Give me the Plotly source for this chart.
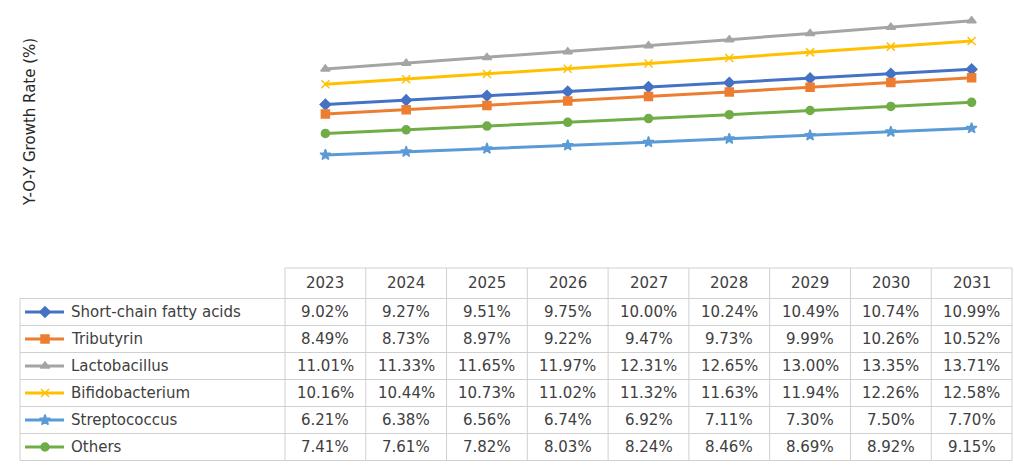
import plotly.graph_objects as go

# ---- data -------------------------------------------------------------
years = ["2023", "2024", "2025", "2026", "2027", "2028", "2029", "2030", "2031"]

short_chain = [9.02, 9.27, 9.51, 9.75, 10.00, 10.24, 10.49, 10.74, 10.99]
tributyrin = [8.49, 8.73, 8.97, 9.22, 9.47, 9.73, 9.99, 10.26, 10.52]
lactobacillus = [11.01, 11.33, 11.65, 11.97, 12.31, 12.65, 13.00, 13.35, 13.71]
bifidobacterium = [10.16, 10.44, 10.73, 11.02, 11.32, 11.63, 11.94, 12.26, 12.58]
streptococcus = [6.21, 6.38, 6.56, 6.74, 6.92, 7.11, 7.30, 7.50, 7.70]
others = [7.41, 7.61, 7.82, 8.03, 8.24, 8.46, 8.69, 8.92, 9.15]

series_names = ["Short-chain fatty acids", "Tributyrin", "Lactobacillus",
                "Bifidobacterium", "Streptococcus", "Others"]
series_values = [short_chain, tributyrin, lactobacillus,
                 bifidobacterium, streptococcus, others]
series_colors = ["#4472C4", "#ED7D31", "#A5A5A5", "#FFC000", "#5B9BD5", "#70AD47"]
series_symbols = ["diamond", "square", "triangle-up", "x-thin", "star", "circle"]

y_title = "Y-O-Y Growth Rate (%)"

# ---- layout geometry (pixels) -----------------------------------------
W, H = 1014, 466
FONT = "DejaVu Sans"
TXT = "#404040"
GRID = "#D0D0D0"
FS = 15

table_left = 20        # left edge of the row-label column
col_left = 285         # first year column
col_right = 1012       # right edge of table
header_top = 268
row_top = 298.5
row_h = 27.0
plot_top = 15.5
plot_bottom = 266.0
n_cols = len(years)
col_w = (col_right - col_left) / n_cols


def px(x):
    return x / W


def py(y):
    return 1 - y / H


fig = go.Figure()

# ---- line series ------------------------------------------------------
for name, vals, color, sym in zip(series_names, series_values,
                                  series_colors, series_symbols):
    fig.add_trace(go.Scatter(
        x=years, y=vals, mode="lines+markers", name=name,
        line=dict(color=color, width=3),
        marker=dict(symbol=sym, size=8, color=color,
                    line=dict(color=color, width=1.5)),
        showlegend=False, xaxis="x", yaxis="y",
    ))

# ---- legend keys inside the data table --------------------------------
for i, (color, sym) in enumerate(zip(series_colors, series_symbols)):
    cy = row_top + row_h * (i + 0.5)
    fig.add_trace(go.Scatter(
        x=[25, 45, 64], y=[cy, cy, cy], mode="lines",
        line=dict(color=color, width=3),
        showlegend=False, hoverinfo="skip", xaxis="x2", yaxis="y2",
    ))
    fig.add_trace(go.Scatter(
        x=[45], y=[cy], mode="markers",
        marker=dict(symbol=sym, size=8, color=color,
                    line=dict(color=color, width=1.5)),
        showlegend=False, hoverinfo="skip", xaxis="x2", yaxis="y2",
    ))

shapes = []
annotations = []

# ---- table grid -------------------------------------------------------
n_rows = len(series_names)
table_bottom = row_top + row_h * n_rows
line_style = dict(color=GRID, width=1)

# header row (year columns only)
shapes.append(dict(type="line", xref="paper", yref="paper",
                   x0=px(col_left), x1=px(col_right),
                   y0=py(header_top), y1=py(header_top), line=line_style))
# row separators
for r in range(n_rows + 1):
    yy = row_top + r * row_h
    shapes.append(dict(type="line", xref="paper", yref="paper",
                       x0=px(table_left), x1=px(col_right),
                       y0=py(yy), y1=py(yy), line=line_style))
# vertical lines
shapes.append(dict(type="line", xref="paper", yref="paper",
                   x0=px(table_left), x1=px(table_left),
                   y0=py(row_top), y1=py(table_bottom), line=line_style))
for c in range(n_cols + 1):
    xx = col_left + c * col_w
    shapes.append(dict(type="line", xref="paper", yref="paper",
                       x0=px(xx), x1=px(xx),
                       y0=py(header_top), y1=py(table_bottom), line=line_style))

# ---- table text -------------------------------------------------------
for c, yr in enumerate(years):
    annotations.append(dict(
        x=px(col_left + (c + 0.5) * col_w), y=py((header_top + row_top) / 2),
        xref="paper", yref="paper", text=yr, showarrow=False,
        xanchor="center", yanchor="middle",
        font=dict(family=FONT, size=FS, color=TXT)))

for r, (name, vals) in enumerate(zip(series_names, series_values)):
    cy = row_top + row_h * (r + 0.5)
    annotations.append(dict(
        x=px(69), y=py(cy), xref="paper", yref="paper", text=name,
        showarrow=False, xanchor="left", yanchor="middle",
        font=dict(family=FONT, size=FS, color=TXT)))
    for c, v in enumerate(vals):
        annotations.append(dict(
            x=px(col_left + (c + 0.5) * col_w), y=py(cy),
            xref="paper", yref="paper", text=f"{v:.2f}%", showarrow=False,
            xanchor="center", yanchor="middle",
            font=dict(family=FONT, size=FS, color=TXT)))

# ---- y axis title -----------------------------------------------------
annotations.append(dict(
    x=px(30), y=py(122), xref="paper", yref="paper", text=y_title,
    showarrow=False, textangle=-90, xanchor="center", yanchor="middle",
    font=dict(family=FONT, size=FS, color="#262626")))

fig.update_layout(
    width=W, height=H,
    margin=dict(l=0, r=0, t=0, b=0),
    paper_bgcolor="white", plot_bgcolor="rgba(0,0,0,0)",
    xaxis=dict(domain=[px(col_left), px(col_right)], type="category",
               range=[-0.5, n_cols - 0.5], showticklabels=False,
               showgrid=False, zeroline=False, showline=False, ticks=""),
    yaxis=dict(domain=[py(plot_bottom), py(plot_top)], range=[0, 14],
               showticklabels=False, showgrid=False, zeroline=False,
               showline=False, ticks=""),
    xaxis2=dict(domain=[0, 1], range=[0, W], visible=False, anchor="y2"),
    yaxis2=dict(domain=[0, 1], range=[H, 0], visible=False, anchor="x2"),
    shapes=shapes,
    annotations=annotations,
    showlegend=False,
)

fig.write_html("out.html")
